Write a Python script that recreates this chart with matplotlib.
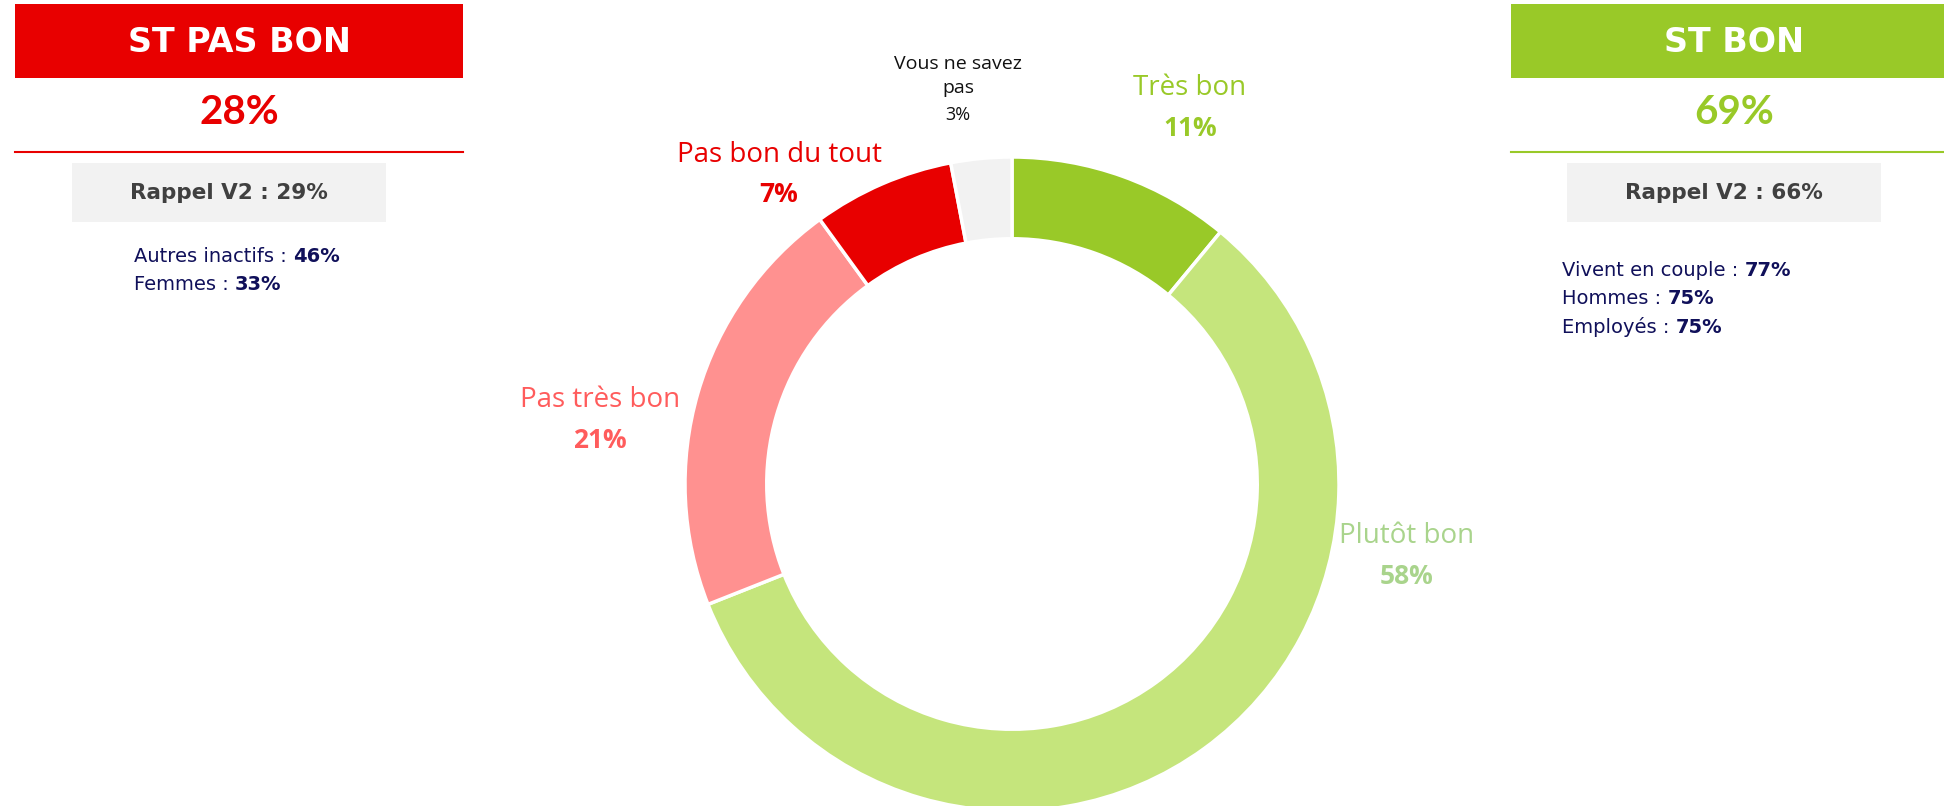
import matplotlib
matplotlib.use('Agg')
import matplotlib.pyplot as plt
from matplotlib.patches import Rectangle

plt.rcParams['font.family'] = ['Open Sans', 'DejaVu Sans']

# donut data, clockwise from the top
categories = ['Très bon', 'Plutôt bon', 'Pas très bon', 'Pas bon du tout', 'Vous ne savez\npas']
values = [11, 58, 21, 7, 3]
sliceColors = ['#99C928', '#C5E57C', '#FF9190', '#E80000', '#F2F2F2']
labelColors = ['#99C928', '#A9D48C', '#FF5C5C', '#E80000', '#111111']

# side panels
totals = {'bad': 28, 'good': 69}
titles = {'bad': 'ST PAS BON', 'good': 'ST BON'}
recall = {'bad': 29, 'good': 66}
badDetails = [('Autres inactifs', 46), ('Femmes', 33)]
goodDetails = [('Vivent en couple', 77), ('Hommes', 75), ('Employés', 75)]

W, H = 1944, 806
fig = plt.figure(figsize=(W / 100, H / 100), dpi=100)
ax = fig.add_axes([0, 0, 1, 1])
ax.set_xlim(0, W)
ax.set_ylim(H, 0)
ax.axis('off')

navy = '#10105A'
wide = ['DejaVu Sans']


def drawPanel(key, x0, x1, cx, color):
    ax.add_patch(Rectangle((x0, 4), x1 - x0, 74, color=color, lw=0))
    ax.text(cx, 42, titles[key], color='white', fontsize=24, fontweight='bold',
            ha='center', va='center', family=wide)
    ax.text(cx, 112, '%d%%' % totals[key], color=color, fontsize=29, fontweight='bold',
            ha='center', va='center', family=['Lato'])
    ax.plot([x0, x1], [152, 152], color=color, lw=1.5)


def drawRecall(key, x0, x1):
    ax.add_patch(Rectangle((x0, 163), x1 - x0, 59, color='#F2F2F2', lw=0))
    ax.text((x0 + x1) / 2, 193, 'Rappel V2 : %d%%' % recall[key], color='#404040',
            fontsize=15.5, fontweight='bold', ha='center', va='center', family=wide)


def drawDetails(details, x, y0, step):
    for i, (name, pct) in enumerate(details):
        t = ax.text(x, y0 + i * step, name + ' : ', color=navy, fontsize=14,
                    ha='left', va='center', family=wide)
        ax.annotate('%d%%' % pct, xy=(1, 0), xycoords=t, color=navy, fontsize=14,
                    fontweight='bold', ha='left', va='bottom', family=wide)


drawPanel('bad', 15, 463, 239, '#E80000')
drawRecall('bad', 72, 386)
drawDetails(badDetails, 134, 256, 28.5)

drawPanel('good', 1511, W, 1734, '#99C928')
drawRecall('good', 1567, 1881)
drawDetails(goodDetails, 1562, 270, 28.5)

# donut
cx, cy, r = 1012, 484, 327
dax = fig.add_axes([(cx - r) / W, (H - cy - r) / H, 2 * r / W, 2 * r / H])
dax.pie(values, colors=sliceColors, startangle=90, counterclock=False, radius=1,
        wedgeprops=dict(width=0.25, edgecolor='white', linewidth=2.5))
dax.set_xlim(-1, 1)
dax.set_ylim(-1, 1)
dax.axis('off')

# slice labels
labelPos = [(1190, 88), (1407, 536), (600, 400), (779, 155)]
for i, (x, y) in enumerate(labelPos):
    ax.text(x, y, categories[i], color=labelColors[i], fontsize=20, ha='center', va='center')
    ax.text(x, y + 40, '%d%%' % values[i], color=labelColors[i], fontsize=19,
            fontweight='bold', ha='center', va='center')

ax.text(958, 76, categories[4], color=labelColors[4], fontsize=14, ha='center',
        va='center', linespacing=1.45)
ax.text(958, 115, '%d%%' % values[4], color=labelColors[4], fontsize=13,
        ha='center', va='center')

fig.savefig('out.png', dpi=100)
